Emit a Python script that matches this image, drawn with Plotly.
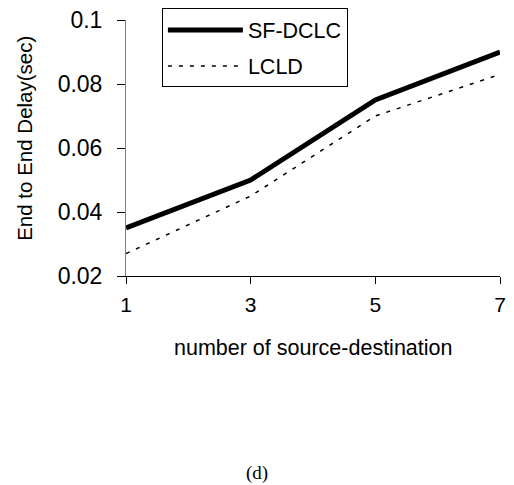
import plotly.graph_objects as go

x_vals = [1, 3, 5, 7]
sf_dclc = [0.035, 0.050, 0.075, 0.090]
lcld = [0.027, 0.045, 0.070, 0.083]
y_ticks = [0.02, 0.04, 0.06, 0.08, 0.1]
y_tick_labels = ["0.02", "0.04", "0.06", "0.08", "0.1"]

fig = go.Figure()
fig.add_trace(go.Scatter(x=x_vals, y=sf_dclc, mode="lines", name="SF-DCLC", legendgroup="a",
                         line=dict(color="black", width=5)))
fig.add_trace(go.Scatter(x=x_vals, y=lcld, mode="lines", name="LCLD", legendgroup="b",
                         line=dict(color="black", width=1.5, dash="4px,7px")))

fig.update_layout(
    width=514, height=485,
    margin=dict(l=126, r=14, t=20, b=209, autoexpand=False),
    paper_bgcolor="white", plot_bgcolor="white",
    font=dict(family="Liberation Sans, Arial, sans-serif", color="black"),
    showlegend=True,
    legend=dict(x=0.096, y=1.045, xanchor="left", yanchor="top",
                bgcolor="white", bordercolor="black", borderwidth=1,
                font=dict(size=21.5), itemwidth=75, tracegroupgap=5),
    xaxis=dict(range=[1, 7], tickvals=x_vals, ticktext=[str(v) for v in x_vals],
               showgrid=False, zeroline=False, showline=True, linecolor="black",
               linewidth=1, ticks="outside", ticklen=7, tickcolor="black",
               tickfont=dict(size=21), ticklabelstandoff=3),
    yaxis=dict(range=[0.02, 0.1], tickvals=y_ticks, ticktext=y_tick_labels,
               showgrid=False, zeroline=False, showline=True, linecolor="#808080",
               linewidth=1, ticks="outside", ticklen=8, tickcolor="black",
               tickfont=dict(size=23), ticklabelstandoff=10),
    annotations=[
        dict(text="number of source-destination", xref="paper", yref="paper",
             x=0.5, y=-0.281, showarrow=False, xanchor="center", yanchor="middle",
             font=dict(size=21.5)),
        dict(text="End to End Delay(sec)", xref="paper", yref="paper",
             x=-0.272, y=0.537, showarrow=False, xanchor="center", yanchor="middle",
             textangle=-90, font=dict(size=20.5)),
        dict(text="(d)", xref="paper", yref="paper", x=0.35, y=-0.77,
             showarrow=False, xanchor="center", yanchor="middle",
             font=dict(family="Liberation Serif, Times New Roman, serif", size=19)),
    ],
)

fig.write_html("out.html")
